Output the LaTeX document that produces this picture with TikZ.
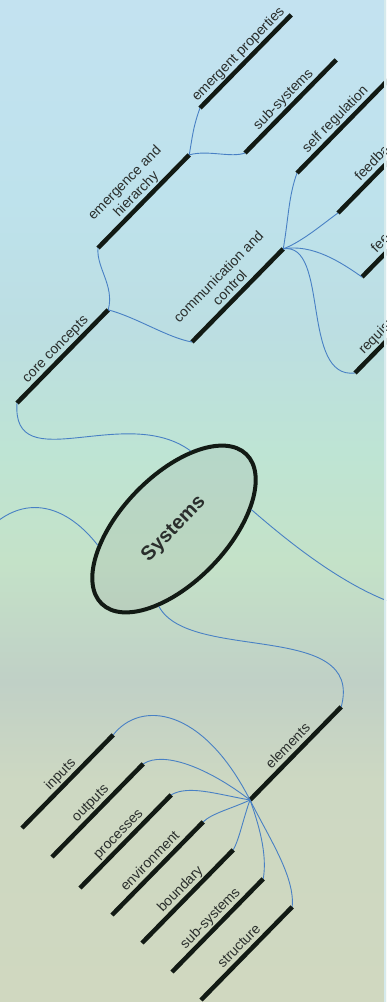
\documentclass[tikz,border=0pt]{standalone}
\usepackage{fontspec}
\setmainfont{Liberation Sans}
\usetikzlibrary{shapes.geometric}

\definecolor{linkblue}{RGB}{72,128,196}
\definecolor{barblack}{RGB}{18,26,20}
\definecolor{labelgray}{RGB}{42,46,44}
\definecolor{edgestrip}{RGB}{214,234,236}
\definecolor{bgA}{RGB}{195,226,240}
\definecolor{bgB}{RGB}{190,226,236}
\definecolor{bgC}{RGB}{188,222,226}
\definecolor{bgD}{RGB}{190,228,212}
\definecolor{bgE}{RGB}{196,226,200}
\definecolor{bgF}{RGB}{192,208,198}
\definecolor{bgG}{RGB}{205,216,194}
\definecolor{bgH}{RGB}{208,216,192}
\pgfdeclareverticalshading{bgfade}{100bp}{color(0bp)=(bgH); color(25bp)=(bgH); color(36bp)=(bgG); color(41bp)=(bgF); color(47bp)=(bgE); color(52.5bp)=(bgD); color(58.5bp)=(bgC); color(65bp)=(bgB); color(75bp)=(bgA); color(100bp)=(bgA)}

\newcommand{\branchfont}{\fontsize{14}{16}\selectfont}

\tikzset{
  branch/.style={rotate=45.6, anchor=south west, minimum width=130pt, inner xsep=0pt, inner ysep=3pt, text depth=3pt, align=center, font=\branchfont, text=labelgray},
  cutbranch/.style={branch, text width=130pt, align=left},
  bar/.style={draw=barblack, line width=4.5pt},
  link/.style={draw=linkblue, line width=0.9pt},
  hub/.style={ellipse, draw=barblack, line width=4pt, fill=gray, fill opacity=0.12, text opacity=1, minimum width=208pt, minimum height=106pt, inner sep=0pt, rotate=46, font=\fontsize{20}{24}\selectfont\bfseries, text=labelgray}
}

\begin{document}
\begin{tikzpicture}[x=1pt,y=1pt]
	\useasboundingbox (0,0) rectangle (386,-1002);
	\clip (0,0) rectangle (386,-1002);
	\shade[shading=bgfade] (0,0) rectangle (386,-1002);

	\node[hub] (sys) at (174,-529) {Systems};

	% core concepts
	\node[branch] (co) at (17,-403) {core concepts};
	\node[branch] (eh) at (98,-248) {emergence and\\hierarchy};
	\node[branch] (ep) at (200,-108) {emergent properties};
	\node[branch] (ss) at (245,-153) {sub-systems};
	\node[branch] (cc) at (192,-342) {communication and\\control};
	\node[branch] (sr) at (297,-173) {self regulation};
	\node[cutbranch] (fb) at (338,-213) {\hspace*{38pt}feedba};
	\node[cutbranch] (fe) at (362,-277) {\hspace*{27pt}fee};
	\node[cutbranch] (rq) at (355,-373) {\hspace*{19pt}requisi};

	% elements
	\node[branch] (el) at (250,-800) {elements};
	\node[branch] (inp) at (22,-828) {inputs};
	\node[branch] (outp) at (52,-857) {outputs};
	\node[branch] (proc) at (80,-888) {processes};
	\node[branch] (env) at (112,-915) {environment};
	\node[branch] (bnd) at (142,-943) {boundary};
	\node[branch] (ss2) at (172,-972) {sub-systems};
	\node[branch] (str) at (201,-1000) {structure};

	% branches running off the page
	\coordinate (lft) at (-25,-545);
	\coordinate (rgt) at (430,-612);

	\draw[bar] (co.south west)--(co.south east);
	\draw[bar] (eh.south west)--(eh.south east);
	\draw[bar] (ep.south west)--(ep.south east);
	\draw[bar] (ss.south west)--(ss.south east);
	\draw[bar] (cc.south west)--(cc.south east);
	\draw[bar] (sr.south west)--(sr.south east);
	\draw[bar] (fb.south west)--(fb.south east);
	\draw[bar] (fe.south west)--(fe.south east);
	\draw[bar] (rq.south west)--(rq.south east);
	\draw[bar] (el.south west)--(el.south east);
	\draw[bar] (inp.south west)--(inp.south east);
	\draw[bar] (outp.south west)--(outp.south east);
	\draw[bar] (proc.south west)--(proc.south east);
	\draw[bar] (env.south west)--(env.south east);
	\draw[bar] (bnd.south west)--(bnd.south east);
	\draw[bar] (ss2.south west)--(ss2.south east);
	\draw[bar] (str.south west)--(str.south east);

	\draw[link] (sys.32) to[out=143.6, in=-94, out distance=81pt, in distance=77pt] (co.south west);
	\draw[link] (sys.146) to[out=128, in=54, out distance=57pt, in distance=68pt] (lft);
	\draw[link] (sys.-32) to[out=-41, in=174, out distance=53pt, in distance=65pt] (rgt);
	\draw[link] (sys.213) to[out=-62, in=75, out distance=64pt, in distance=90pt] (el.south east);

	\draw[link] (co.south east) to[out=75, in=-95, out distance=25pt, in distance=20pt] (eh.south west);
	\draw[link] (co.south east) to[out=-15, in=170, out distance=30pt, in distance=25pt] (cc.south west);
	\draw[link] (eh.south east) to[out=80, in=-110, out distance=20pt, in distance=20pt] (ep.south west);
	\draw[link] (eh.south east) to[out=15, in=200, out distance=20pt, in distance=15pt] (ss.south west);
	\draw[link] (cc.south east) to[out=80, in=-110, out distance=30pt, in distance=25pt] (sr.south west);
	\draw[link] (cc.south east) to[out=20, in=-145, out distance=20pt, in distance=15pt] (fb.south west);
	\draw[link] (cc.south east) to[out=10, in=145, out distance=30pt, in distance=25pt] (fe.south west);
	\draw[link] (cc.south east) to[out=8.5, in=187, out distance=47pt, in distance=55pt] (rq.south west);

	\draw[link] (el.south west) to[out=117, in=52, out distance=105pt, in distance=44pt] (inp.south east);
	\draw[link] (el.south west) to[out=142.5, in=33, out distance=54pt, in distance=24pt] (outp.south east);
	\draw[link] (el.south west) to[out=170, in=30, out distance=35pt, in distance=20pt] (proc.south east);
	\draw[link] (el.south west) to[out=205, in=45, out distance=20pt, in distance=12pt] (env.south east);
	\draw[link] (el.south west) to[out=-110, in=60, out distance=20pt, in distance=12pt] (bnd.south east);
	\draw[link] (el.south west) to[out=-70, in=80, out distance=25pt, in distance=25pt] (ss2.south east);
	\draw[link] (el.south west) to[out=-63, in=85, out distance=45pt, in distance=30pt] (str.south east);

	\fill[edgestrip] (383.5,0) rectangle (386,-1002);
\end{tikzpicture}
\end{document}
